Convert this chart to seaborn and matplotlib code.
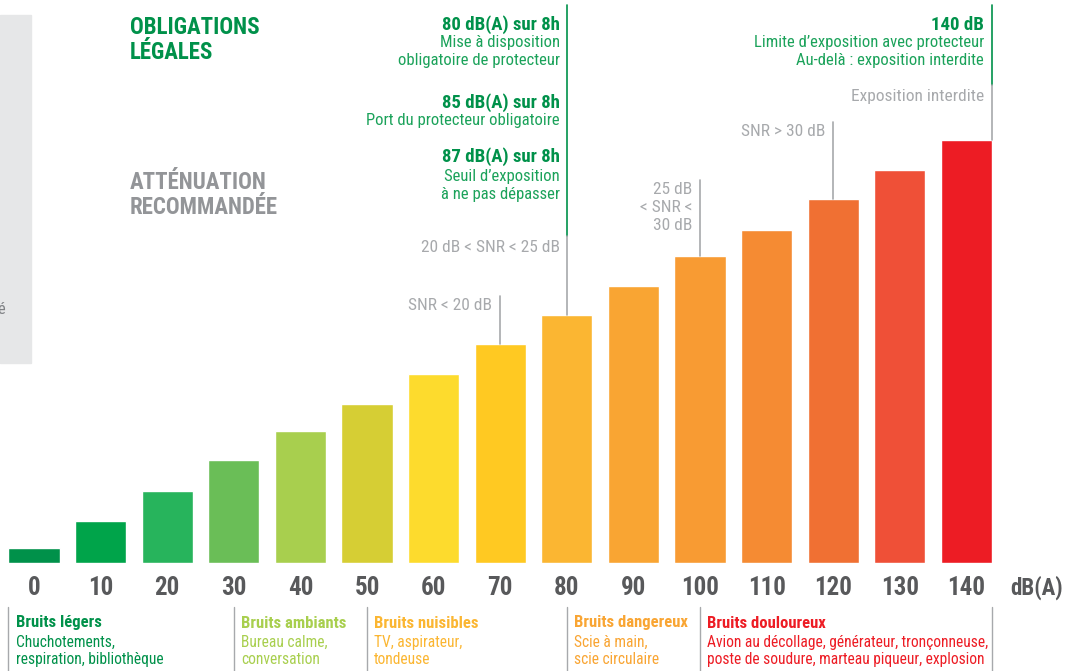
import matplotlib
matplotlib.use("Agg")
import matplotlib.pyplot as plt
import seaborn as sns
import pandas as pd

# data
levels = ["0", "10", "20", "30", "40", "50", "60", "70", "80", "90", "100", "110", "120", "130", "140"]
heights = [15, 42, 72, 103, 132, 159, 189, 219, 248, 277, 307, 333, 364, 393, 423]
colors = ["#00914A", "#00A44A", "#27B45C", "#6ABE57", "#A8CF4E", "#D6CE34", "#FDDB2D", "#FFC922",
          "#FBB632", "#F9A533", "#F89B33", "#F58B33", "#F07033", "#EF5037", "#ED1C24"]

categories = ["Bruits légers", "Bruits ambiants", "Bruits nuisibles", "Bruits dangereux", "Bruits douloureux"]
cat_examples = ["Chuchotements,\nrespiration, bibliothèque", "Bureau calme,\nconversation",
                "TV, aspirateur,\ntondeuse", "Scie à main,\nscie circulaire",
                "Avion au décollage, générateur, tronçonneuse,\nposte de soudure, marteau piqueur, explosion"]
cat_start = [-0.385, 3, 5, 8, 10]
cat_colors = ["#00914A", "#A8CF4E", "#FBB632", "#F9A533", "#ED1C24"]

GREEN = "#00914A"
GREEN_L = "#1BA25A"
GRAY = "#A7A9AC"
DARK = "#58595B"

sns.set_style("white")
plt.rcParams["font.family"] = ["Roboto Condensed", "Liberation Sans Narrow", "Liberation Sans", "DejaVu Sans"]

W, H = 1066, 671
fig = plt.figure(figsize=(W / 100, H / 100), dpi=100)
base = 563  # baseline pixel from top
x0, step = 34, 66.6
left_px = x0 - 0.5 * step
ax = fig.add_axes([left_px / W, (H - base) / H, 15 * step / W, base / H])

df = pd.DataFrame({"level": levels, "h": heights})
sns.barplot(data=df, x="level", y="h", hue="level", palette=colors, legend=False,
            width=0.77, saturation=1, ax=ax)
ax.set_xlim(-0.5, 14.5)
ax.set_ylim(0, base)
ax.axis("off")


def py(p):
    # pixel from top -> data y
    return base - p


def px(p):
    return (p - x0) / step


T = ax.transData
kw = dict(transform=T, clip_on=False)
BODY = 12
GRAYSZ = 12.5

# gray side panel
fig.patches.append(plt.Rectangle((0, (H - 363) / H), 31 / W, 348 / H, transform=fig.transFigure,
                                 color="#E6E7E8", zorder=0))
fig.text(1 / W, 1 - 310 / H, "é", color="#808285", fontsize=12, ha="center", va="center")

# tick labels
for i, lab in enumerate(levels):
    ax.text(i, py(588), lab, ha="center", va="center", fontsize=18, fontweight="bold", color=DARK, **kw)
ax.text(px(1037), py(588), "dB(A)", ha="center", va="center", fontsize=16.5, fontweight="bold", color=DARK, **kw)

# category blocks
cat_lines = cat_start + [14.385]
for xv in cat_lines:
    ax.plot([xv, xv], [py(607), py(671)], color=GRAY, lw=1, **kw)
for s, name, ex, c in zip(cat_start, categories, cat_examples, cat_colors):
    ax.text(s + 0.11, py(623), name, ha="left", va="center", fontsize=12, fontweight="bold", color=c, **kw)
    ax.text(s + 0.11, py(651), ex, ha="left", va="center", fontsize=11.2, color=c, linespacing=1.15, **kw)

# headings
ax.text(px(130), py(40), "OBLIGATIONS\nLÉGALES", ha="left", va="center", fontsize=16.5,
        fontweight="heavy", color=GREEN, linespacing=1.1, **kw)
ax.text(px(130), py(195), "ATTÉNUATION\nRECOMMANDÉE", ha="left", va="center", fontsize=16.5,
        fontweight="heavy", color="#939598", linespacing=1.1, **kw)

# 80 dB line
ax.plot([8, 8], [py(5), py(236)], color=GREEN, lw=1.2, **kw)
ax.plot([8, 8], [py(236), heights[8]], color=GRAY, lw=1.2, **kw)
xr = px(560)
for y, t in [(25, "80 dB(A) sur 8h"), (103, "85 dB(A) sur 8h"), (157, "87 dB(A) sur 8h")]:
    ax.text(xr, py(y), t, ha="right", va="center", fontsize=13.5, fontweight="bold", color=GREEN, **kw)
for y, t in [(43, "Mise à disposition"), (61, "obligatoire de protecteur"),
             (121, "Port du protecteur obligatoire"), (176, "Seuil d’exposition"),
             (195, "à ne pas dépasser")]:
    ax.text(xr, py(y), t, ha="right", va="center", fontsize=BODY, color=GREEN_L, **kw)
ax.text(xr, py(247), "20 dB < SNR < 25 dB", ha="right", va="center", fontsize=GRAYSZ, color=GRAY, **kw)

# SNR < 20
ax.plot([7, 7], [py(296), heights[7]], color=GRAY, lw=1.2, **kw)
ax.text(px(492), py(306), "SNR < 20 dB", ha="right", va="center", fontsize=GRAYSZ, color=GRAY, **kw)

# 25 < SNR < 30
ax.plot([10, 10], [py(180), heights[10]], color=GRAY, lw=1.2, **kw)
ax.text(px(692), py(208), "25 dB\n< SNR <\n30 dB", ha="right", va="center", fontsize=GRAYSZ,
        color=GRAY, linespacing=1.25, **kw)

# SNR > 30
ax.plot([12, 12], [py(122), heights[12]], color=GRAY, lw=1.2, **kw)
ax.text(px(825), py(131), "SNR > 30 dB", ha="right", va="center", fontsize=GRAYSZ, color=GRAY, **kw)

# 140 dB line
xe = 14.385
ax.plot([xe, xe], [py(5), py(85)], color=GREEN, lw=1.2, **kw)
ax.plot([xe, xe], [py(85), heights[14]], color=GRAY, lw=1.2, **kw)
xr2 = px(984)
ax.text(xr2, py(25), "140 dB", ha="right", va="center", fontsize=13.5, fontweight="bold", color=GREEN, **kw)
ax.text(xr2, py(43), "Limite d’exposition avec protecteur", ha="right", va="center", fontsize=BODY,
        color=GREEN_L, **kw)
ax.text(xr2, py(61), "Au-delà : exposition interdite", ha="right", va="center", fontsize=BODY,
        color=GREEN_L, **kw)
ax.text(xr2, py(97), "Exposition interdite", ha="right", va="center", fontsize=GRAYSZ, color=GRAY, **kw)

fig.savefig("out.png", dpi=100)
